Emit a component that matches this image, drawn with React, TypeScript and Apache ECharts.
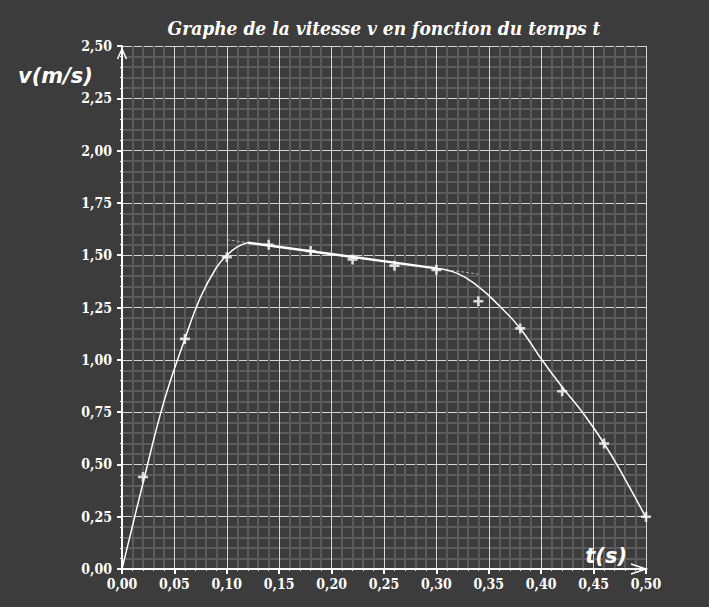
import React, { useEffect, useRef } from 'react';
import * as echarts from 'echarts';

const BG = '#3c3c3c';

// measured points (t in s, v in m/s)
const tMeasured = [0.02, 0.06, 0.10, 0.14, 0.18, 0.22, 0.26, 0.30, 0.34, 0.38, 0.42, 0.46, 0.50];
const vMeasured = [0.44, 1.10, 1.49, 1.55, 1.52, 1.48, 1.45, 1.43, 1.28, 1.15, 0.85, 0.60, 0.25];

// hand-drawn fit curve, rising part
const riseT = [0, 0.02, 0.04, 0.06, 0.075, 0.09, 0.10, 0.11, 0.12];
const riseV = [0, 0.41, 0.80, 1.10, 1.30, 1.44, 1.50, 1.54, 1.56];

// straight (linear) part
const linT = [0.12, 0.30];
const linV = [1.56, 1.437];

// falling part
const fallT = [0.30, 0.32, 0.34, 0.36, 0.38, 0.40, 0.42, 0.44, 0.46, 0.48, 0.50];
const fallV = [1.437, 1.413, 1.35, 1.258, 1.15, 1.005, 0.87, 0.745, 0.60, 0.43, 0.245];

// dashed tangent extensions
const tanLeftT = [0.10, 0.12];
const tanLeftV = [1.574, 1.56];
const tanRightT = [0.30, 0.34];
const tanRightV = [1.437, 1.41];

const xMin = 0, xMax = 0.5, xStep = 0.05;
const yMin = 0, yMax = 2.5, yStep = 0.25;

const TITLE = 'Graphe de la vitesse v en fonction du temps t';
const Y_NAME = 'v(m/s)';
const X_NAME = 't(s)';

const zip = (a: number[], b: number[]) => a.map((x, i) => [x, b[i]]);
const fmt = (v: number) => v.toFixed(2).replace('.', ',');

const SERIF = '"DejaVu Serif Condensed", "DejaVu Serif", serif';
const SANS = '"DejaVu Sans", sans-serif';

export default function App() {
  const ref = useRef<HTMLDivElement>(null);
  useEffect(() => {
    document.body.style.margin = '0';
    document.body.style.background = BG;
    const chart = echarts.init(ref.current!, null, { renderer: 'svg' });
    const axisCommon = {
      type: 'value',
      axisLine: { show: true, onZero: false, lineStyle: { color: '#ffffff', width: 2 } },
      axisTick: { show: true, inside: false, length: 5, lineStyle: { color: '#ffffff', width: 2 } },
      minorTick: { show: true, splitNumber: 5, length: 2, lineStyle: { color: '#ffffff', width: 1 } },
      splitLine: { show: true, lineStyle: { color: '#d6d6d6', width: 1 } },
      minorSplitLine: { show: true, lineStyle: { color: '#5c5c5c', width: 2 } },
    };
    chart.setOption({
      animation: false,
      backgroundColor: BG,
      grid: { left: 122, right: 63, top: 46, bottom: 38, containLabel: false },
      xAxis: {
        ...axisCommon,
        min: xMin, max: xMax, interval: xStep,
        axisLabel: { color: '#ffffff', fontFamily: SERIF, fontWeight: 'bold', fontSize: 14, margin: 8, formatter: fmt },
      },
      yAxis: {
        ...axisCommon,
        min: yMin, max: yMax, interval: yStep,
        axisLabel: { color: '#ffffff', fontFamily: SERIF, fontWeight: 'bold', fontSize: 14, margin: 10, formatter: fmt },
      },
      series: [
        {
          type: 'line', data: zip(riseT, riseV), smooth: 0.4, symbol: 'none',
          lineStyle: { color: '#ffffff', width: 1.5 }, z: 3,
        },
        {
          type: 'line', data: zip(linT, linV), symbol: 'none',
          lineStyle: { color: '#ffffff', width: 2.5 }, z: 3,
        },
        {
          type: 'line', data: zip(fallT, fallV), smooth: 0.5, symbol: 'none',
          lineStyle: { color: '#ffffff', width: 1.5 }, z: 3,
        },
        {
          type: 'line', data: zip(tanLeftT, tanLeftV), symbol: 'none',
          lineStyle: { color: '#b0b0b0', width: 1, type: [3, 2] }, z: 2,
        },
        {
          type: 'line', data: zip(tanRightT, tanRightV), symbol: 'none',
          lineStyle: { color: '#b0b0b0', width: 1, type: [3, 2] }, z: 2,
        },
        {
          type: 'scatter', data: zip(tMeasured, vMeasured),
          symbol: 'path://M3.7 0H6.3V3.7H10V6.3H6.3V10H3.7V6.3H0V3.7H3.7Z', symbolSize: 10,
          itemStyle: { color: '#ffffff' }, z: 4,
        },
      ],
    });

    const o = chart.convertToPixel({ gridIndex: 0 }, [xMin, yMin]) as number[];
    const tr = chart.convertToPixel({ gridIndex: 0 }, [xMax, yMax]) as number[];
    const x0 = o[0], y0 = o[1], x1 = tr[0], y1 = tr[1];
    chart.setOption({
      graphic: [
        {
          type: 'text', x: (x0 + x1) / 2, y: 28,
          style: {
            text: TITLE, fill: '#ffffff', font: `italic bold 19px ${SERIF}`,
            textAlign: 'center', textVerticalAlign: 'middle',
          },
        },
        {
          type: 'text', x: 18, y: 76,
          style: {
            text: Y_NAME, fill: '#ffffff', font: `italic bold 21px ${SANS}`,
            textAlign: 'left', textVerticalAlign: 'middle',
          },
        },
        {
          type: 'text', x: x1 - 19, y: y0 - 13,
          style: {
            text: X_NAME, fill: '#ffffff', font: `italic bold 21px ${SANS}`,
            textAlign: 'right', textVerticalAlign: 'middle',
          },
        },
        {
          type: 'polyline', z: 10,
          shape: { points: [[x0 - 4.5, y1 + 13], [x0, y1 + 3], [x0 + 4.5, y1 + 13]] },
          style: { stroke: '#ffffff', lineWidth: 1.5, fill: null },
        },
        {
          type: 'polyline', z: 10,
          shape: { points: [[x1 - 15, y0 - 5], [x1, y0], [x1 - 15, y0 + 5]] },
          style: { stroke: '#ffffff', lineWidth: 1.5, fill: null },
        },
      ],
    });
    return () => chart.dispose();
  }, []);
  return <div ref={ref} style={{ width: 709, height: 607, background: BG }} />;
}
